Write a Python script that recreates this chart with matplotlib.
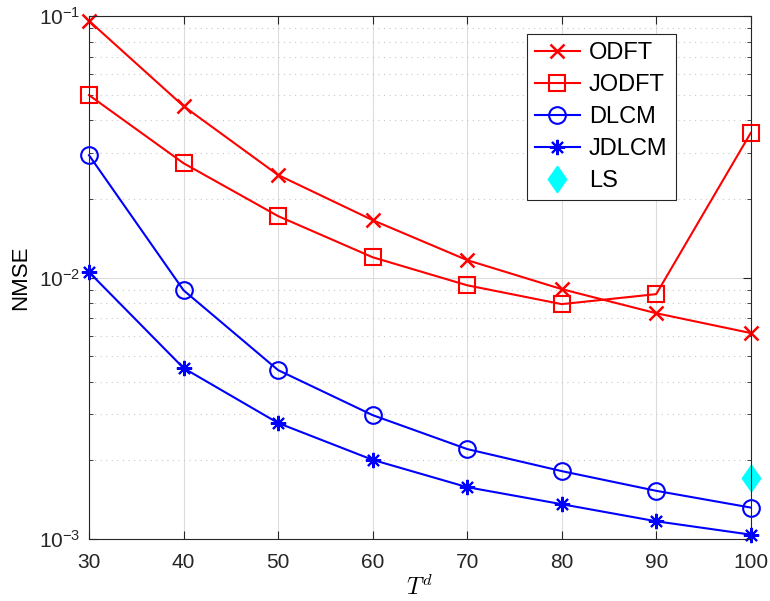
import matplotlib
matplotlib.use('Agg')
import matplotlib.pyplot as plt
from matplotlib.ticker import LogLocator, NullFormatter

# Data
td = [30, 40, 50, 60, 70, 80, 90, 100]
odft = [0.096, 0.0453, 0.0247, 0.0166, 0.01167, 0.00904, 0.00731, 0.00614]
jodft = [0.0499, 0.0274, 0.0172, 0.01197, 0.00935, 0.00792, 0.00865, 0.0358]
dlcm = [0.0294, 0.00895, 0.00443, 0.00298, 0.00221, 0.00182, 0.00153, 0.00132]
jdlcm = [0.0105, 0.00451, 0.00278, 0.00201, 0.00158, 0.00136, 0.00117, 0.00104]
ls_x = [100]
ls_y = [0.00171]

plt.rcParams['font.family'] = ['Liberation Sans', 'DejaVu Sans']
plt.rcParams['mathtext.fontset'] = 'cm'
plt.rcParams['axes.unicode_minus'] = False

fig = plt.figure(figsize=(7.7, 6.01), dpi=100)
ax = fig.add_axes([0.1156, 0.103, 0.8594, 0.870])

ax.plot(td, odft, '-x', color='red', lw=1.5, ms=10, mew=1.8, label='ODFT', clip_on=False)
ax.plot(td, jodft, '-s', color='red', lw=1.5, ms=11, mew=1.5, mfc='none', label='JODFT', clip_on=False)
ax.plot(td, dlcm, '-o', color='blue', lw=1.5, ms=12, mew=1.5, mfc='none', label='DLCM', clip_on=False)
ax.plot(td, jdlcm, '-', marker=(8, 2, 0), color='blue', lw=1.5, ms=11, mew=1.5, label='JDLCM', clip_on=False)
ax.plot(ls_x, ls_y, 'D', color='cyan', ms=10, linestyle='none', label='LS', clip_on=False)

ax.set_yscale('log')
ax.set_xlim(30, 100)
ax.set_ylim(1e-3, 1e-1)
ax.set_xticks(td)
ax.yaxis.set_major_locator(LogLocator(base=10, numticks=10))
ax.yaxis.set_minor_locator(LogLocator(base=10, subs=range(2, 10), numticks=20))
ax.yaxis.set_minor_formatter(NullFormatter())

ax.grid(True, which='major', color='#dcdcdc', lw=0.8)
ax.grid(True, which='minor', axis='y', color='#c8c8c8', lw=0.8, linestyle=(0, (1, 4)))
ax.set_axisbelow(True)

ax.tick_params(which='both', direction='in', top=True, right=True, labelsize=15, colors='#262626')
ax.tick_params(which='major', length=6)
ax.tick_params(which='minor', length=3)
ax.tick_params(axis='x', pad=10)
ax.tick_params(axis='y', pad=6)
for sp in ax.spines.values():
    sp.set_color('#262626')
    sp.set_linewidth(0.8)

ax.set_xlabel('$T^d$', fontsize=17, labelpad=2)
ax.set_ylabel('NMSE', fontsize=16, labelpad=6)

# the LS diamond is a bit taller than wide in the reference
ls_line = ax.lines[-1]
ls_line.set_marker(matplotlib.markers.MarkerStyle('D').get_path().transformed(
    matplotlib.transforms.Affine2D().rotate_deg(0)))
ls_line.set_marker([(0, 1), (0.7, 0), (0, -1), (-0.7, 0), (0, 1)])
ls_line.set_markersize(19)

leg = ax.legend(loc='upper right', bbox_to_anchor=(0.887, 0.966), borderaxespad=0,
                fontsize=17, fancybox=False, framealpha=1, edgecolor='#262626',
                handlelength=1.9, borderpad=0.35, labelspacing=0.42, handletextpad=0.4)
leg.get_frame().set_linewidth(0.8)

fig.savefig('out.png', dpi=100)
